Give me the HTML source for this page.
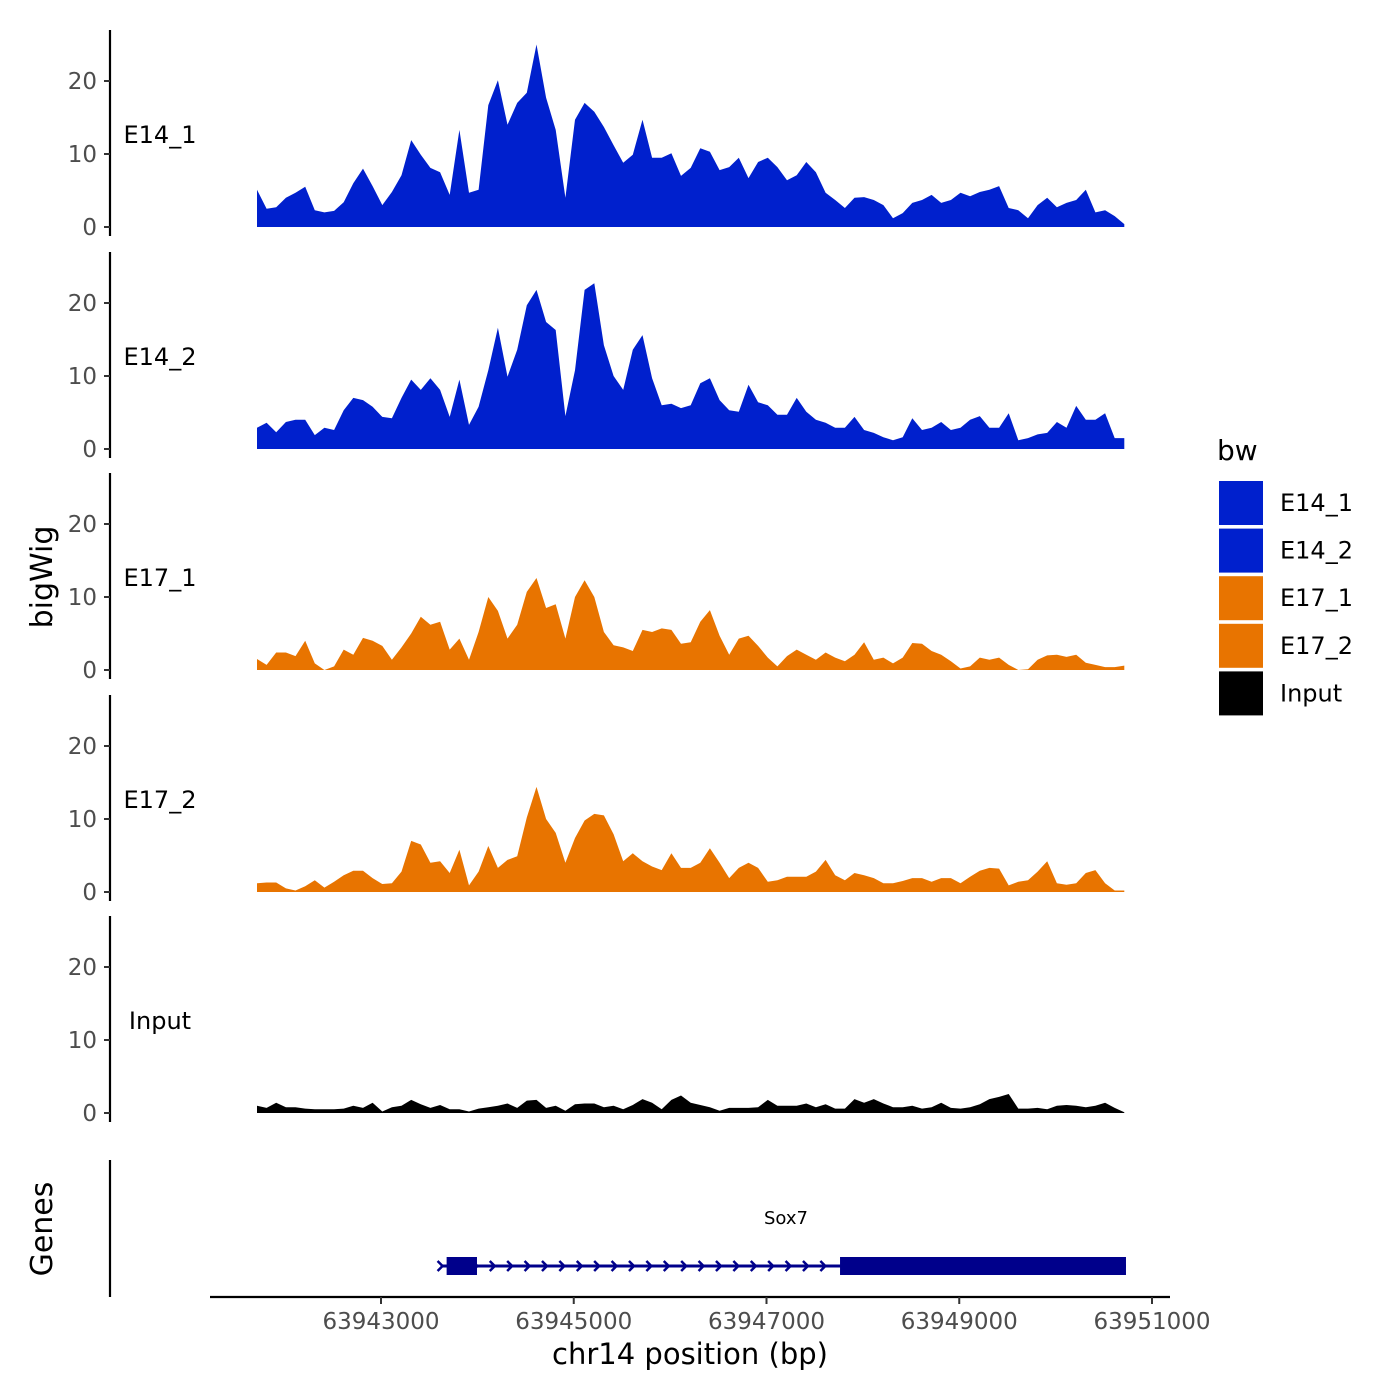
<!DOCTYPE html>
<html><head><meta charset="utf-8">
<style>
html,body{margin:0;padding:0;background:#fff;}
svg{display:block;font-family:"DejaVu Sans","Liberation Sans",sans-serif;}
</style></head>
<body>
<svg id="chart" width="1400" height="1400" viewBox="0 0 1400 1400" xmlns="http://www.w3.org/2000/svg">
<g id="tracks"></g>
<g id="genes"></g>
<g id="xaxis"></g>
<text x="52" y="577" font-size="30" text-anchor="middle" transform="rotate(-90 52 577)">bigWig</text>
<text x="52" y="1229" font-size="30" text-anchor="middle" transform="rotate(-90 52 1229)">Genes</text>
<text x="690" y="1364" font-size="29" text-anchor="middle">chr14 position (bp)</text>
<g id="legend"></g>
</svg>
<script>
const startBp = 63941713;
const stepBp = 100;
const trackNames = ["E14_1","E14_2","E17_1","E17_2","Input"];
const trackColors = ["#0020CD","#0020CD","#E87400","#E87400","#000000"];
const e14_1 = [5.1,2.5,2.7,4,4.7,5.5,2.3,2,2.2,3.4,6,8,5.6,3,4.8,7.1,11.9,9.9,8.1,7.5,4.4,13.3,4.7,5.1,16.7,20.1,14,17,18.4,25,17.7,13.3,4,14.7,17,15.8,13.7,11.2,8.8,9.9,14.7,9.5,9.5,10.1,7,8.1,10.8,10.3,7.8,8.2,9.5,6.7,8.9,9.5,8.2,6.4,7.1,8.9,7.5,4.7,3.7,2.6,4,4.1,3.7,3,1.2,1.9,3.3,3.7,4.4,3.3,3.7,4.7,4.2,4.8,5.1,5.6,2.6,2.3,1.2,3,4,2.7,3.3,3.7,5.1,2,2.3,1.5,0.4];
const e14_2 = [2.9,3.6,2.3,3.7,4,4,1.9,2.9,2.6,5.3,7,6.7,5.8,4.4,4.2,7,9.5,8.1,9.7,8.1,4.4,9.5,3.3,5.8,10.8,16.6,9.9,13.6,19.7,21.8,17.4,16.3,4.5,10.8,21.8,22.7,14.2,10,8.1,13.6,15.6,9.7,6,6.2,5.6,6,9,9.7,6.7,5.3,5.1,8.8,6.4,6,4.7,4.7,7,5.1,4,3.6,2.9,2.9,4.4,2.6,2.2,1.6,1.2,1.6,4.2,2.6,2.9,3.7,2.6,2.9,4,4.5,2.9,2.9,4.9,1.2,1.5,2,2.2,3.7,2.9,5.9,4,4,4.9,1.5,1.5];
const e17_1 = [1.5,0.7,2.4,2.4,1.9,4,0.9,0,0.5,2.8,2.1,4.4,4,3.3,1.4,3.1,5,7.3,6.2,6.6,2.8,4.3,1.4,5.2,10,8.1,4.3,6.2,10.7,12.6,8.5,9,4.3,10,12.3,10,5.2,3.4,3.1,2.6,5.5,5.2,5.7,5.5,3.6,3.8,6.6,8.2,4.7,2.1,4.3,4.7,3.3,1.7,0.5,1.9,2.8,2.1,1.4,2.4,1.7,1.2,2.1,3.8,1.4,1.7,0.9,1.7,3.7,3.6,2.6,2.1,1.2,0.2,0.5,1.7,1.4,1.7,0.7,0,0.1,1.4,2,2.1,1.8,2.1,1,0.7,0.4,0.4,0.6];
const e17_2 = [1.2,1.3,1.3,0.5,0.2,0.8,1.6,0.6,1.4,2.3,2.9,2.9,1.9,1.1,1.2,2.8,7,6.5,4,4.2,2.6,5.8,0.9,2.8,6.3,3.3,4.4,4.9,10.2,14.4,10,8.1,4,7.4,9.8,10.7,10.5,7.9,4.2,5.3,4.2,3.5,3,5.3,3.3,3.3,4,6,4,1.9,3.3,4,3.3,1.4,1.6,2.1,2.1,2.1,2.8,4.4,2.3,1.6,2.6,2.3,1.9,1.2,1.2,1.5,1.9,1.9,1.4,1.9,1.9,1.2,2.1,2.9,3.3,3.2,0.9,1.4,1.6,2.8,4.2,1.2,1,1.2,2.6,3,1.2,0.2,0.2];
const inputVals = [1,0.7,1.4,0.8,0.8,0.6,0.5,0.5,0.5,0.6,1,0.7,1.4,0.2,0.8,1,1.8,1.2,0.7,1.1,0.5,0.5,0.2,0.6,0.8,1,1.3,0.7,1.7,1.8,0.7,1,0.3,1.2,1.3,1.3,0.8,1,0.5,1.1,1.9,1.4,0.5,1.8,2.4,1.4,1.1,0.8,0.3,0.7,0.7,0.7,0.8,1.8,1,1,1,1.3,0.8,1.2,0.6,0.6,1.9,1.4,1.9,1.3,0.8,0.8,1,0.6,0.8,1.4,0.7,0.6,0.8,1.2,1.9,2.2,2.6,0.6,0.6,0.7,0.5,1,1.1,1,0.8,1,1.4,0.7,0.1];
const seriesValues = [e14_1,e14_2,e17_1,e17_2,inputVals];
const yTicks = [0,10,20];
const xTicks = [63943000,63945000,63947000,63949000,63951000];
const xTickLabels = ["63943000","63945000","63947000","63949000","63951000"];
const geneName = "Sox7";
const geneStart = 63943618, geneEnd = 63950730;
const exonStarts = [63943681, 63947763];
const exonEnds = [63943996, 63950730];

const NS="http://www.w3.org/2000/svg";
function mk(tag, attrs, parent){const e=document.createElementNS(NS,tag);for(const k in attrs)e.setAttribute(k,attrs[k]);parent.appendChild(e);return e;}
function xScale(bp){return 381 + (bp-63943000)*(771/8000);}
const trackZero = [227,449,670,892,1113];
const pxPerUnit = 7.3;
function yScale(t,v){return trackZero[t]-v*pxPerUnit;}

const tracks=document.getElementById('tracks');
for(let t=0;t<5;t++){
  const g=mk('g',{},tracks);
  
  
  const vals=seriesValues[t];
  let d='M'+xScale(startBp).toFixed(1)+','+yScale(t,0);
  vals.forEach((v,i)=>{d+=' L'+xScale(startBp+i*stepBp).toFixed(1)+','+yScale(t,v).toFixed(1);});
  d+=' L'+xScale(startBp+(vals.length-1)*stepBp).toFixed(1)+','+yScale(t,0)+' Z';
  const a=mk('path',{d:d,fill:trackColors[t]},g);
  
  
  const ax=mk('line',{x1:110,x2:110,y1:trackZero[t]-197,y2:trackZero[t]+9,stroke:'#000','stroke-width':2.2},g);
  
  
  yTicks.forEach(v=>{
    const y=yScale(t,v);
    mk('line',{x1:104,x2:110,y1:y,y2:y,stroke:'#333','stroke-width':2},g);
    const tl=mk('text',{x:97,y:y+8,'font-size':23,fill:'#4d4d4d','text-anchor':'end'},g);
    tl.textContent=v;
    
    
  });
  const lab=mk('text',{x:160,y:trackZero[t]-84,'font-size':24,'text-anchor':'middle'},g);
  lab.textContent=trackNames[t];
  
  
}

const genes=document.getElementById('genes');
const gax=mk('line',{x1:110,x2:110,y1:1160,y2:1297,stroke:'#000','stroke-width':2.2},genes);


const gl=mk('line',{x1:xScale(geneStart),x2:xScale(geneEnd),y1:1266,y2:1266,stroke:'#00008B','stroke-width':3},genes);


for(let x=xScale(geneStart);x<xScale(exonStarts[1])-4;x+=17.4){
  const c=mk('path',{d:`M${x-3},1261 L${x+2},1266 L${x-3},1271`,fill:'none',stroke:'#00008B','stroke-width':2.5},genes);
  
  
}
exonStarts.forEach((s,i)=>{
  const r=mk('rect',{x:xScale(s),y:1257,width:xScale(exonEnds[i])-xScale(s),height:18,fill:'#00008B'},genes);
  
  
});
const gn=mk('text',{x:786,y:1224,'font-size':18,'text-anchor':'middle'},genes);
gn.textContent=geneName;



const xa=document.getElementById('xaxis');
mk('line',{x1:210,x2:1170,y1:1297,y2:1297,stroke:'#000','stroke-width':2.2},xa);
xTicks.forEach((b,i)=>{
  const x=xScale(b);
  mk('line',{x1:x,x2:x,y1:1297,y2:1304,stroke:'#333','stroke-width':2},xa);
  const tl=mk('text',{x:x,y:1329,'font-size':23,fill:'#4d4d4d','text-anchor':'middle'},xa);
  tl.textContent=xTickLabels[i];
  
  
});

const lg=document.getElementById('legend');
const lt=mk('text',{x:1217,y:460,'font-size':28},lg);
lt.textContent='bw';


trackNames.forEach((n,i)=>{
  const y=481+i*47.6;
  const k=mk('rect',{x:1219,y:y,width:44,height:44,fill:trackColors[i]},lg);
  
  
  const t=mk('text',{x:1280,y:y+30,'font-size':24},lg);
  t.textContent=n;
  
  
});
</script>
</body></html>
